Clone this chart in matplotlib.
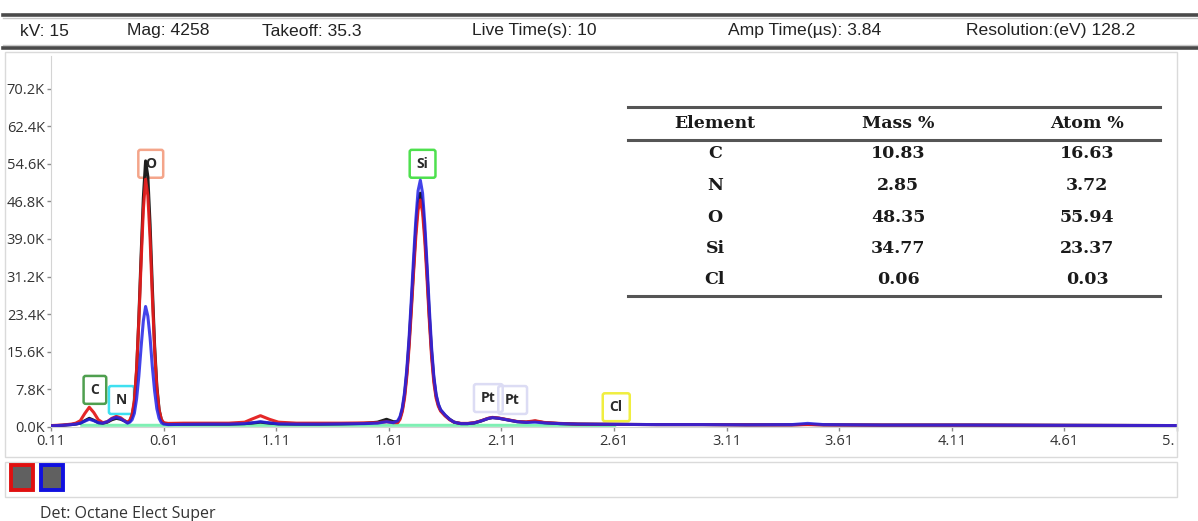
import matplotlib
matplotlib.use("Agg")
import matplotlib.pyplot as plt
from matplotlib.lines import Line2D
from matplotlib.patches import Rectangle
from matplotlib.transforms import Bbox, TransformedBbox

# ---------------- data ----------------
header_items = ["kV: 15", "Mag: 4258", "Takeoff: 35.3", "Live Time(s): 10",
                "Amp Time(\u00b5s): 3.84", "Resolution:(eV) 128.2"]

energy_kev = [0.11, 0.16, 0.20, 0.22, 0.24, 0.26, 0.28, 0.30, 0.32, 0.34, 0.36, 0.38,
              0.40, 0.42, 0.44, 0.45, 0.46, 0.47, 0.48, 0.49, 0.50, 0.51, 0.52, 0.53,
              0.54, 0.55, 0.56, 0.57, 0.58, 0.59, 0.60, 0.61, 0.63, 0.70, 0.80, 0.90,
              0.97, 1.00, 1.04, 1.08, 1.12, 1.20, 1.30, 1.40, 1.50, 1.56, 1.60, 1.63,
              1.65, 1.66, 1.67, 1.68, 1.69, 1.70, 1.71, 1.72, 1.73, 1.74, 1.75, 1.76,
              1.77, 1.78, 1.79, 1.80, 1.81, 1.82, 1.83, 1.84, 1.86, 1.88, 1.90, 1.93,
              1.96, 1.99, 2.02, 2.05, 2.07, 2.10, 2.14, 2.18, 2.22, 2.26, 2.30, 2.37,
              2.45, 2.60, 2.80, 3.00, 3.20, 3.40, 3.47, 3.54, 3.80, 4.20, 4.60, 5.11]

# counts in thousands
red_counts_k = [0.3, 0.4, 0.6, 0.8, 1.3, 2.8, 4.1, 3.0, 1.5, 0.9, 1.1, 1.8,
                2.2, 1.9, 1.2, 1.0, 1.4, 2.6, 5.5, 12, 22, 34, 45, 51.4,
                48, 39, 27, 16, 8, 3.5, 1.6, 0.9, 0.75, 0.8, 0.8, 0.8,
                1.0, 1.6, 2.35, 1.6, 1.0, 0.8, 0.8, 0.8, 0.85, 0.9, 1.1, 0.9,
                0.9, 1.6, 3.2, 6.0, 10.5, 16.5, 24, 32, 39.5, 45, 47.1, 44.5,
                38.5, 30.5, 22, 14.5, 9.2, 6.0, 4.3, 3.3, 2.3, 1.5, 1.0, 0.75,
                0.75, 0.9, 1.3, 1.8, 2.0, 1.85, 1.5, 1.15, 1.05, 1.3, 0.95, 0.75,
                0.6, 0.55, 0.5, 0.5, 0.45, 0.45, 0.5, 0.45, 0.4, 0.4, 0.35, 0.3]

blue_counts_k = [0.25, 0.35, 0.5, 0.6, 0.8, 1.2, 1.6, 1.3, 0.9, 0.8, 1.1, 1.7,
                 2.0, 1.7, 1.1, 0.8, 1.0, 1.5, 2.8, 5.8, 10.5, 16.5, 22, 25,
                 23, 18.5, 12.5, 7.5, 3.8, 1.8, 0.9, 0.6, 0.5, 0.55, 0.6, 0.6,
                 0.7, 0.85, 1.1, 0.85, 0.65, 0.6, 0.6, 0.65, 0.7, 0.8, 1.1, 0.9,
                 1.3, 2.2, 4.0, 7.2, 12, 18.5, 26.5, 35, 43, 49, 51.2, 48.5,
                 42, 33.5, 24.5, 16.5, 10.5, 6.8, 4.8, 3.6, 2.5, 1.6, 1.0, 0.7,
                 0.7, 0.85, 1.25, 1.75, 1.95, 1.8, 1.45, 1.1, 0.95, 1.0, 0.85, 0.7,
                 0.6, 0.55, 0.5, 0.5, 0.45, 0.5, 0.75, 0.5, 0.4, 0.4, 0.35, 0.3]

black_counts_k = [0.25, 0.35, 0.5, 0.6, 0.8, 1.3, 1.8, 1.4, 0.9, 0.8, 1.0, 1.5,
                  1.8, 1.6, 1.2, 0.9, 1.2, 2.3, 5, 11.5, 22.5, 35.5, 47.5, 55.2,
                  52, 42, 29, 17, 8.5, 3.6, 1.5, 0.8, 0.6, 0.6, 0.6, 0.6,
                  0.7, 0.8, 1.0, 0.8, 0.65, 0.6, 0.6, 0.65, 0.75, 1.0, 1.6, 1.1,
                  1.1, 1.9, 3.6, 6.6, 11.2, 17.5, 25, 33, 41, 46.5, 48.5, 46,
                  40, 32, 23, 15.5, 10, 6.5, 4.6, 3.5, 2.4, 1.6, 1.0, 0.7,
                  0.7, 0.85, 1.25, 1.75, 1.95, 1.8, 1.45, 1.1, 1.0, 1.2, 0.9, 0.7,
                  0.6, 0.55, 0.5, 0.5, 0.45, 0.45, 0.55, 0.45, 0.4, 0.4, 0.35, 0.3]

background_kev = [0.24, 0.60, 1.20, 1.80, 2.40, 2.62]
background_k = [0.35, 0.35, 0.35, 0.35, 0.35, 0.3]

peak_labels = ["C", "N", "O", "Si", "Pt", "Pt", "Cl"]
peak_label_kev = [0.305, 0.423, 0.553, 1.760, 2.052, 2.160, 2.620]
peak_label_k = [7.7, 5.6, 54.6, 54.6, 6.0, 5.6, 4.1]
peak_label_colors = ["#4f9f4f", "#3fe0f0", "#f4a58a", "#4ee04e", "#dcdcf4", "#dcdcf4", "#f0ee40"]

xtick_values = [0.11, 0.61, 1.11, 1.61, 2.11, 2.61, 3.11, 3.61, 4.11, 4.61, 5.11]
ytick_values_k = [0.0, 7.8, 15.6, 23.4, 31.2, 39.0, 46.8, 54.6, 62.4, 70.2]

table_columns = ["Element", "Mass %", "Atom %"]
table_elements = ["C", "N", "O", "Si", "Cl"]
table_mass = ["10.83", "2.85", "48.35", "34.77", "0.06"]
table_atom = ["16.63", "3.72", "55.94", "23.37", "0.03"]

footer_text = "Det: Octane Elect Super"

# ---------------- figure ----------------
W, H = 1198, 521
fig = plt.figure(figsize=(W / 100, H / 100), dpi=100)
fig.patch.set_facecolor("white")

def fx(px):
    return px / W

def fy(py):
    return 1 - py / H

# header lines
for y, c, lw in [(15, "#4a4a4a", 2.6), (18, "#c8c8c8", 1.0), (45, "#c8c8c8", 1.0), (48, "#4a4a4a", 2.6)]:
    fig.add_artist(Line2D([fx(3), fx(1198)], [fy(y), fy(y)], color=c, lw=lw))

header_x = [20, 127, 262, 472, 728, 966]
for txt, x in zip(header_items, header_x):
    fig.text(fx(x), fy(31), txt, ha="left", va="center", fontsize=12.6,
             family="Liberation Sans", color="#222222")

# plot panel & legend panel
fig.add_artist(Rectangle((fx(5), fy(457)), fx(1177) - fx(5), fy(52) - fy(457),
                         transform=fig.transFigure, fill=False, ec="#dadada", lw=1.0))
fig.add_artist(Rectangle((fx(5), fy(497)), fx(1177) - fx(5), fy(462) - fy(497),
                         transform=fig.transFigure, fill=False, ec="#dadada", lw=1.0))
for x0, ec in [(11, "#e01010"), (41, "#1010e0")]:
    fig.add_artist(Rectangle((fx(x0), fy(490)), fx(22), fy(465) - fy(490),
                             transform=fig.transFigure, fc="#606060", ec=ec, lw=2.8))
fig.text(fx(40), fy(514), footer_text, ha="left", va="center", fontsize=11.5,
         family="Open Sans", color="#333333")

# axes
x0, x1 = 0.11, 5.11
ymax = 77000
ax = fig.add_axes([fx(51), fy(427), fx(1177) - fx(51), (427 - 55.8) / H])
ax.set_xlim(x0, x1)
ax.set_ylim(0, ymax)
ax.set_facecolor("none")

red = [v * 1000 for v in red_counts_k]
blue = [v * 1000 for v in blue_counts_k]
black = [v * 1000 for v in black_counts_k]
bg = [v * 1000 for v in background_k]

ax.plot(background_kev, bg, color="#7ff0b4", lw=2.2, zorder=2, solid_capstyle="butt")
ax.plot(energy_kev, black, color="#1e1e1e", lw=2.2, zorder=3)
ax.plot(energy_kev, red, color="#e41c1c", lw=2.2, zorder=4, alpha=0.95)
ax.plot(energy_kev, blue, color="#2222e6", lw=2.2, zorder=5, alpha=0.85)

for lab, ex, ey, col in zip(peak_labels, peak_label_kev, peak_label_k, peak_label_colors):
    fc = "none" if lab == "Pt" else "white"
    ax.text(ex, ey * 1000, lab, ha="center", va="center", fontsize=10, fontweight="bold",
            family="Open Sans", color="#2a2a2a", zorder=2.5,
            bbox=dict(boxstyle="round,pad=0.5,rounding_size=0.15", fc=fc, ec=col, lw=1.8))

ax.set_xticks(xtick_values)
ax.set_xticklabels([f"{v:.2f}" for v in xtick_values])
ax.set_yticks([v * 1000 for v in ytick_values_k])
ax.set_yticklabels([f"{v:.1f}K" for v in ytick_values_k])
ax.tick_params(axis="both", labelsize=10.5, colors="#8a8a8a", labelcolor="#333333",
               length=3, width=1.0, pad=1.5)
for lbl in ax.get_xticklabels() + ax.get_yticklabels():
    lbl.set_fontfamily("Open Sans")
ax.tick_params(axis="x", pad=2)
clipbb = TransformedBbox(Bbox([[0, 0], [fx(1175), 1]]), fig.transFigure)
for lbl in ax.get_xticklabels():
    lbl.set_clip_on(True)
    lbl.set_clip_box(clipbb)

for s in ["top", "right"]:
    ax.spines[s].set_visible(False)
ax.spines["left"].set_color("#d4d4d4")
ax.spines["bottom"].set_color("#d4d4d4")

# table
tx0, tx1 = 628, 1160
for y in [107, 140, 296]:
    fig.add_artist(Line2D([fx(tx0), fx(tx1)], [fy(y), fy(y)], color="#555555", lw=2.2))
col_x = [715, 898, 1087]
for cx, t in zip(col_x, table_columns):
    fig.text(fx(cx), fy(124), t, ha="center", va="center", fontsize=12.5,
             fontweight="bold", family="DejaVu Serif", color="#1a1a1a")
row_y = [154, 185, 217, 249, 280]
for ry, e, m, a in zip(row_y, table_elements, table_mass, table_atom):
    for cx, t in zip(col_x, [e, m, a]):
        fig.text(fx(cx), fy(ry), t, ha="center", va="center", fontsize=12.5,
                 fontweight="bold", family="DejaVu Serif", color="#1a1a1a")

fig.savefig("out.png", dpi=100, facecolor="white")
